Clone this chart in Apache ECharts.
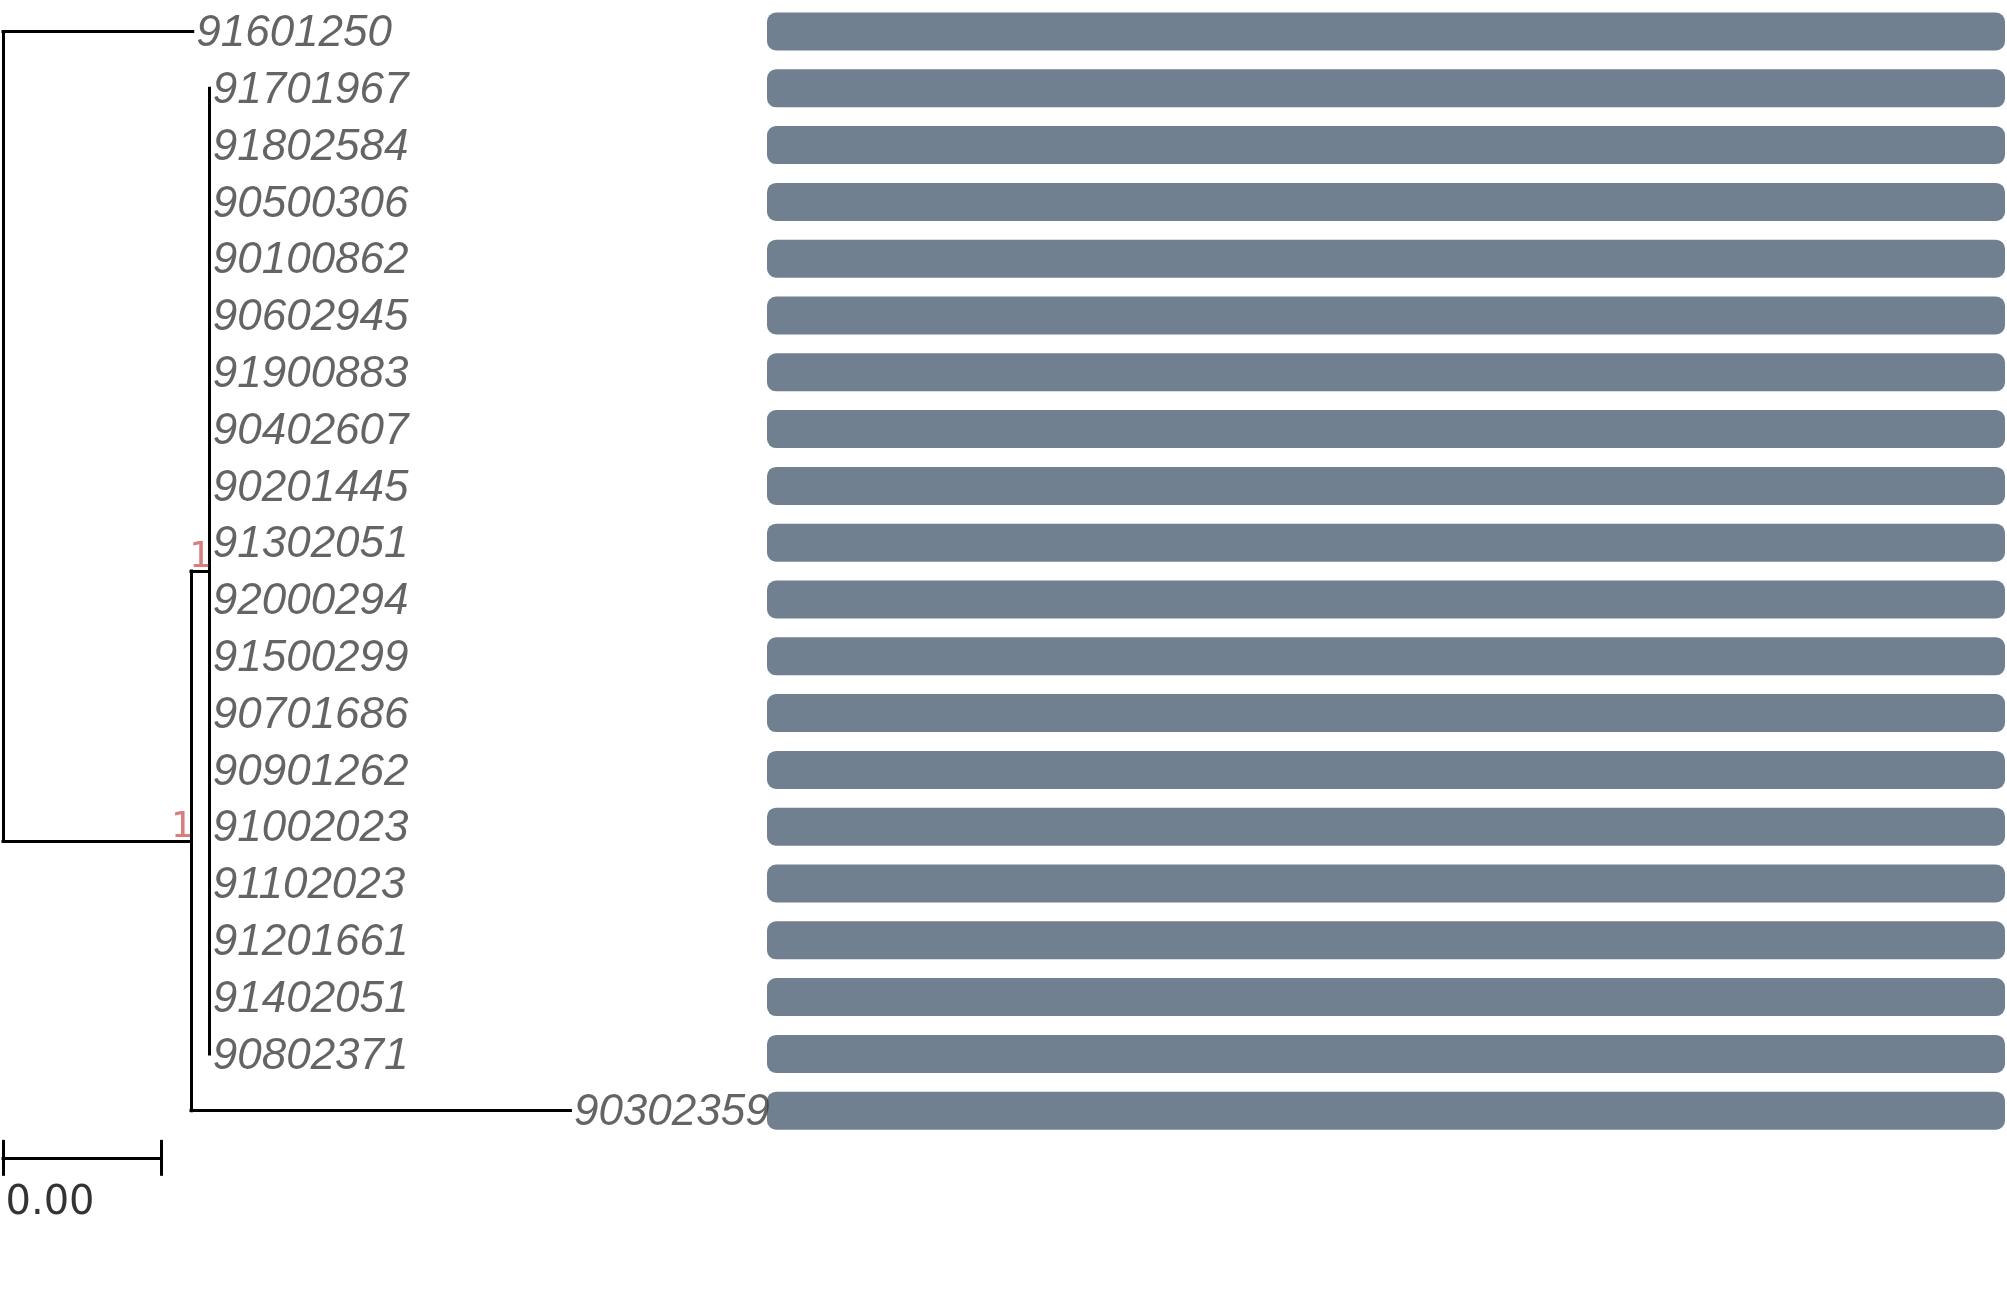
<!DOCTYPE html>
<html>
<head>
<meta charset="utf-8">
<script src="https://cdn.jsdelivr.net/npm/echarts@6/dist/echarts.min.js"></script>
<style>
html,body{margin:0;padding:0;background:#fff;}
#main{width:2007px;height:1300px;}
</style>
</head>
<body>
<div id="main"></div>
<script>
// ---- data ----
const tipLabels = ['91601250','91701967','91802584','90500306','90100862','90602945','91900883','90402607','90201445','91302051','92000294','91500299','90701686','90901262','91002023','91102023','91201661','91402051','90802371','90302359'];
const tipParent = ['R','B','B','B','B','B','B','B','B','B','B','B','B','B','B','B','B','B','B','A'];
const tipBranch = [0.002397,0,0,0,0,0,0,0,0,0,0,0,0,0,0,0,0,0,0,0.004794];
const nodeIds = ['R','A','B'];
const nodeParent = [null,'R','A'];
const nodeBranch = [0,0.002375,0.000231];
const nodeSupport = ['','1','1'];
const barValues = [1,1,1,1,1,1,1,1,1,1,1,1,1,1,1,1,1,1,1,1];
const scaleWidth = 0.002;

// ---- tree layout ----
const nodeX = {}, nodeY = {};
nodeIds.forEach((id, i) => {
  const p = nodeParent[i];
  nodeX[id] = (p ? nodeX[p] : 0) + nodeBranch[i];
});
const tipX = tipLabels.map((t, i) => nodeX[tipParent[i]] + tipBranch[i]);
const tipY = tipLabels.map((t, i) => i);
function childrenOf(id) {
  const kids = [];
  tipLabels.forEach((t, i) => { if (tipParent[i] === id) kids.push({x: tipX[i], y: tipY[i], len: tipBranch[i]}); });
  nodeIds.forEach((n, i) => { if (nodeParent[i] === id) kids.push({node: n, len: nodeBranch[i]}); });
  return kids;
}
function nodeYOf(id) {
  if (nodeY[id] !== undefined) return nodeY[id];
  const ys = childrenOf(id).map(k => k.node ? nodeYOf(k.node) : k.y);
  nodeY[id] = (Math.min(...ys) + Math.max(...ys)) / 2;
  return nodeY[id];
}
nodeIds.forEach(nodeYOf);
const segs = [];
nodeIds.forEach(id => {
  const kids = childrenOf(id).map(k => k.node ? {x: nodeX[k.node], y: nodeY[k.node], len: k.len} : k);
  const ys = kids.map(k => k.y);
  segs.push({coords: [[nodeX[id], Math.min(...ys)], [nodeX[id], Math.max(...ys)]]});
  kids.forEach(k => { if (k.len > 0) segs.push({coords: [[nodeX[id], k.y], [k.x, k.y]]}); });
});
// scale bar
const scaleY = 19.83, tickH = 0.29;
const scaleSegs = [
  {coords: [[0, scaleY], [scaleWidth, scaleY]]},
  {coords: [[0, scaleY - tickH], [0, scaleY + tickH]]},
  {coords: [[scaleWidth, scaleY - tickH], [scaleWidth, scaleY + tickH]]}
];

const chart = echarts.init(document.getElementById('main'), null, {renderer: 'canvas'});
const rowH = 56.8, gridTop = 3.1;
const hidden = {color: 'rgba(0,0,0,0)'};
chart.setOption({
  animation: false,
  backgroundColor: '#fff',
  grid: [
    {left: 3, top: gridTop, width: 0.01 * 79150, height: rowH * 22},
    {left: 767, right: 2, top: gridTop, height: rowH * 20}
  ],
  xAxis: [
    {gridIndex: 0, type: 'value', min: 0, max: 0.01, show: false},
    {gridIndex: 1, type: 'value', min: 0, max: 1, show: false}
  ],
  yAxis: [
    {gridIndex: 0, type: 'value', inverse: true, min: -0.5, max: 21.5, show: false},
    {gridIndex: 1, type: 'category', inverse: true, data: tipLabels, show: false}
  ],
  series: [
    {
      type: 'lines', coordinateSystem: 'cartesian2d', xAxisIndex: 0, yAxisIndex: 0,
      polyline: false, clip: false, silent: true,
      lineStyle: {color: '#000', width: 3, opacity: 1, cap: 'square'},
      data: segs.concat(scaleSegs)
    },
    {
      type: 'scatter', xAxisIndex: 0, yAxisIndex: 0, clip: false, silent: true,
      symbolSize: 1, itemStyle: hidden,
      data: tipLabels.map((t, i) => ({name: t, value: [tipX[i], tipY[i]]})),
      label: {show: true, position: 'right', distance: 3, offset: [0, 2.5], formatter: '{b}',
        fontFamily: 'Liberation Sans', fontStyle: 'italic', fontSize: 44, color: '#3d3d3d'}
    },
    {
      type: 'scatter', xAxisIndex: 0, yAxisIndex: 0, clip: false, silent: true,
      symbolSize: 1, itemStyle: hidden,
      data: nodeIds.map((id, i) => ({name: nodeSupport[i], value: [nodeX[id], nodeY[id]]})).filter(d => d.name !== ''),
      label: {show: true, position: [0, 0], align: 'right', verticalAlign: 'bottom', offset: [2, 5],
        formatter: '{b}', fontFamily: 'DejaVu Sans Mono', fontSize: 36, color: '#CD5C5C'}
    },
    {
      type: 'scatter', xAxisIndex: 0, yAxisIndex: 0, clip: false, silent: true,
      symbolSize: 1, itemStyle: hidden,
      data: [{name: scaleWidth.toFixed(2), value: [0, 20.63]}],
      label: {show: true, position: 'right', distance: 2, formatter: '{b}',
        fontFamily: 'DejaVu Sans', fontSize: 40, color: '#000'}
    },
    {
      type: 'bar', xAxisIndex: 1, yAxisIndex: 1, silent: true,
      barWidth: 38, data: barValues,
      itemStyle: {color: '#708090', borderRadius: 9}
    }
  ]
});
</script>
</body>
</html>
